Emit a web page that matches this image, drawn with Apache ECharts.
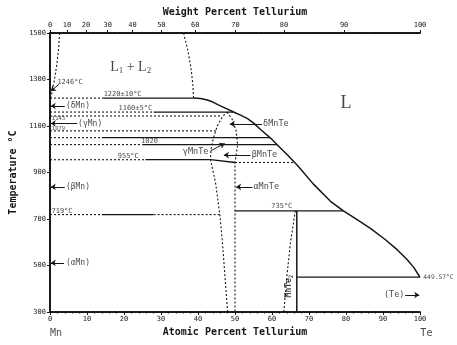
<!DOCTYPE html>
<html>
<head>
<meta charset="utf-8">
<script src="https://cdn.jsdelivr.net/npm/echarts@6/dist/echarts.min.js"></script>
<style>
  html, body { margin: 0; padding: 0; background: #fff; }
  #c { width: 457px; height: 345px; }
</style>
</head>
<body>
<div id="c"></div>
<script>
// Mn–Te phase diagram. Composition in atomic percent Te, temperature in °C.
const atomicTicks = [0, 10, 20, 30, 40, 50, 60, 70, 80, 90, 100];
const weightTicks = [0, 10, 20, 30, 40, 50, 60, 70, 80, 90, 100];
const tempTicks = [300, 500, 700, 900, 1100, 1300, 1500];

// liquid miscibility gap (L1 + L2)
const gapLeft = [[2.6, 1500], [2.3, 1430], [1.8, 1360], [1.1, 1290], [0.4, 1235], [0.2, 1222]];
const gapRight = [[36.1, 1500], [37.2, 1430], [38.1, 1350], [38.6, 1280], [38.8, 1220]];

// liquidus from the monotectic down to the Te eutectic
const liquidus = [[38.8, 1220], [40.7, 1218], [42.5, 1212], [44, 1203], [45.5, 1191], [47.5, 1176],
  [49.6, 1160], [51.5, 1147], [53.4, 1132], [55.2, 1110], [56.9, 1085], [59.6, 1048], [62, 1010],
  [64.2, 975], [66.9, 930], [71.2, 850], [75.8, 776], [79.3, 735], [83, 697], [86.6, 660],
  [90.5, 613], [93.9, 567], [96.5, 526], [98.3, 492], [100, 449.57]];

// MnTe homogeneity range
const mnteLeft = [[48, 300], [47.3, 450], [46.6, 600], [45.9, 719], [44.8, 850], [43.4, 955],
  [43.5, 1000], [44.2, 1050], [45.2, 1100], [46.6, 1140], [47.8, 1160]];
const mnteRight = [[47.8, 1160], [49.2, 1130], [50.3, 1080], [50.7, 1020], [50.4, 985], [50, 943], [50, 300]];

// MnTe2 line compound and the solvus beside it
const mnte2Line = [[66.7, 300], [66.7, 735]];
const mnte2Solvus = [[63.2, 300], [64, 450], [65, 600], [66.3, 735]];

// isotherms: [from at.%, to at.%, °C]
const solidIsotherms = [[14.5, 38.8, 1220], [28, 49.6, 1160], [14, 59.5, 1050], [25, 61.4, 1020],
  [25.8, 43.4, 955], [14, 28, 719], [50, 79.3, 735], [66.7, 100, 449.57]];
const dashedIsotherms = [[0, 14.5, 1220], [0, 28, 1160], [0, 46.4, 1143], [0, 44.8, 1079],
  [0, 14, 1050], [0, 25, 1020], [0, 25.8, 955], [50, 65.9, 943], [0, 14, 719], [28, 45.9, 719]];
const betaAlphaTie = [[43.4, 955], [50, 943]];

// pointers from phase names to their fields
const pointers = [
  [[2.4, 1279], [0.2, 1250]],
  [[4, 1186], [0.2, 1186]],
  [[7.3, 1111], [0.2, 1111]],
  [[4, 838], [0.2, 838]],
  [[3.8, 511], [0.2, 511]],
  [[57.3, 1109], [48.6, 1109]],
  [[54.2, 975], [47, 975]],
  [[43.4, 993], [47.2, 1025]],
  [[54.7, 838], [50.3, 838]],
  [[96, 373], [99.8, 373]]
];

const toAtomic = w => 100 * (w / 127.6) / (w / 127.6 + (100 - w) / 54.938);
const toWeight = a => 100 * (a * 127.6) / (a * 127.6 + (100 - a) * 54.938);

const INK = '#161616';
const MONO = 'DejaVu Sans Mono';
const SERIF = 'Liberation Serif';
const DOTS = [2, 2];

function trace(data, dashed, width) {
  return {
    type: 'line', data: data, showSymbol: false, symbol: 'none', silent: true,
    animation: false, z: 3,
    lineStyle: { color: INK, width: width || (dashed ? 1.1 : 1.3), type: dashed ? DOTS : 'solid' }
  };
}

const series = [];
series.push(trace(gapLeft, true));
series.push(trace(gapRight, true));
series.push(trace(liquidus, false, 1.5));
series.push(trace(mnteLeft, true));
series.push(trace(mnteRight, true));
series.push(trace(mnte2Line, false, 1.5));
series.push(trace(mnte2Solvus, true));
series.push(trace(betaAlphaTie, false));
solidIsotherms.forEach(s => series.push(trace([[s[0], s[2]], [s[1], s[2]]], false)));
dashedIsotherms.forEach(s => series.push(trace([[s[0], s[2]], [s[1], s[2]]], true)));

series.push({
  type: 'lines', coordinateSystem: 'cartesian2d', silent: true, animation: false, z: 4,
  symbol: ['none', 'arrow'], symbolSize: [0, 5],
  lineStyle: { color: INK, width: 1, opacity: 1 },
  data: pointers.map(p => ({ coords: p }))
});

function note(text, at, opt) {
  opt = opt || {};
  return {
    value: at,
    label: {
      show: true, position: 'inside', formatter: text,
      align: opt.align || 'left', verticalAlign: opt.valign || 'middle',
      fontSize: opt.size || 8, fontFamily: opt.font || MONO, color: INK,
      rotate: opt.rotate || 0, offset: opt.offset || [0, 0], rich: opt.rich
    }
  };
}

const notes = [
  note('1246°C', [2.0, 1287], { size: 7 }),
  note('(δMn)', [4.3, 1186]),
  note('1143', [0.5, 1132], { size: 5.5 }),
  note('1079', [0.5, 1091], { size: 5.5 }),
  note('(γMn)', [7.6, 1111]),
  note('(βMn)', [4.3, 838]),
  note('(αMn)', [4.3, 511]),
  note('719°C', [0.4, 733], { size: 7 }),
  note('1220±10°C', [14.5, 1237], { size: 7 }),
  note('1160±5°C', [18.5, 1176], { size: 7 }),
  note('1020', [24.6, 1035], { size: 7 }),
  note('955°C', [18.3, 970], { size: 7 }),
  note('γMnTe', [42.8, 990], { align: 'right', size: 8.5 }),
  note('δMnTe', [57.6, 1109], { size: 8.5 }),
  note('βMnTe', [54.5, 975], { size: 8.5 }),
  note('αMnTe', [55, 838], { size: 8.5 }),
  note('735°C', [59.8, 755], { size: 7 }),
  note('449.57°C', [100.9, 450], { size: 6.3 }),
  note('(Te)', [95.8, 373], { align: 'right', size: 8.5 }),
  note('{a|MnTe}{b|2}', [64.6, 412], {
    align: 'center', rotate: 90,
    rich: { a: { fontSize: 8, fontFamily: MONO, fontWeight: 'bold', color: INK },
            b: { fontSize: 6, fontFamily: MONO, fontWeight: 'bold', color: INK, padding: [4, 0, 0, 0] } }
  }),
  note('L', [80, 1199], { align: 'center', size: 18, font: SERIF }),
  note('{m|L}{s|1}{m| + L}{s|2}', [21.8, 1354], {
    align: 'center',
    rich: { m: { fontSize: 14, fontFamily: SERIF, color: INK },
            s: { fontSize: 9, fontFamily: SERIF, color: INK, padding: [7, 0, 0, 0] } }
  }),
  note('Mn', [0, 300], { size: 10, offset: [0, 21] }),
  note('Te', [100.1, 300], { size: 10, offset: [0, 21] })
];

series.push({
  type: 'scatter', symbolSize: 0, silent: true, animation: false, z: 5, clip: false,
  data: notes
});

const axisLine = { show: true, lineStyle: { color: INK, width: 1.8, type: [3, 1.2] } };
const tickLabel = { fontFamily: MONO, fontSize: 7, color: INK };
const axisName = { fontFamily: MONO, fontSize: 10, fontWeight: 'bold', color: INK };

const option = {
  backgroundColor: '#fff',
  animation: false,
  grid: { left: 50, right: 37, top: 33, bottom: 33, containLabel: false },
  xAxis: [
    {
      type: 'value', position: 'bottom', min: 0, max: 100, interval: 10,
      name: 'Atomic Percent Tellurium', nameLocation: 'middle', nameGap: 15, nameTextStyle: axisName,
      axisLine: axisLine,
      axisTick: { show: true, length: 3, lineStyle: { color: INK, width: 1 }, customValues: atomicTicks },
      minorTick: { show: true, splitNumber: 5, length: 1.5, lineStyle: { color: INK } },
      axisLabel: Object.assign({ margin: 4, customValues: atomicTicks, formatter: v => String(v) }, tickLabel),
      splitLine: { show: false }
    },
    {
      type: 'value', position: 'top', min: 0, max: 100,
      name: 'Weight Percent Tellurium', nameLocation: 'middle', nameGap: 14, nameTextStyle: axisName,
      axisLine: axisLine,
      axisTick: { show: true, length: 3, lineStyle: { color: INK, width: 1 }, customValues: weightTicks.map(toAtomic) },
      axisLabel: Object.assign({
        margin: 4, customValues: weightTicks.map(toAtomic),
        formatter: v => String(Math.round(toWeight(v)))
      }, tickLabel),
      splitLine: { show: false }
    }
  ],
  yAxis: [
    {
      type: 'value', position: 'left', min: 300, max: 1500,
      name: 'Temperature °C', nameLocation: 'middle', nameGap: 26, nameRotate: 90, nameTextStyle: axisName,
      axisLine: axisLine,
      axisTick: { show: true, length: 3, lineStyle: { color: INK, width: 1 }, customValues: tempTicks },
      axisLabel: Object.assign({ margin: 4, customValues: tempTicks, formatter: v => String(v) }, tickLabel),
      splitLine: { show: false }
    },
    {
      type: 'value', position: 'right', min: 300, max: 1500,
      axisLine: axisLine,
      axisTick: { show: true, inside: true, length: 3, lineStyle: { color: INK, width: 1 }, customValues: tempTicks },
      axisLabel: { show: false },
      splitLine: { show: false }
    }
  ],
  series: series
};

const chart = echarts.init(document.getElementById('c'), null, { renderer: 'canvas' });
chart.setOption(option);
</script>
</body>
</html>
